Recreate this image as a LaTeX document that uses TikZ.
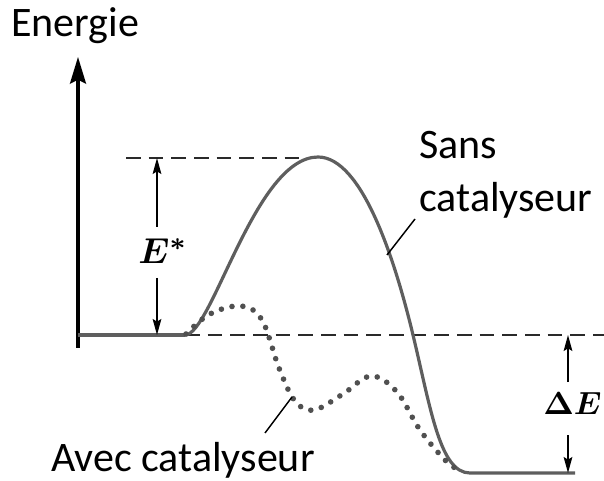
\documentclass[tikz,border=0pt]{standalone}
\usepackage{amsmath,bm}
\usepackage{graphicx}
\usepackage{fontspec}
\setmainfont{Carlito}
\usetikzlibrary{arrows.meta}
\definecolor{curvegray}{HTML}{5E5E5E}
\definecolor{dotgray}{HTML}{505050}
\definecolor{dashgray}{HTML}{2A2A2A}
\tikzset{
  lbl/.style={font=\fontsize{31.5pt}{36pt}\selectfont, inner sep=0pt, anchor=base west},
  axisline/.style={line width=2.3pt, -{Stealth[length=20pt,width=12pt,inset=3pt]}},
  solidcurve/.style={line width=2.4pt, curvegray},
  dotcurve/.style={line width=4.2pt, dotgray, line cap=round, dash pattern=on 0pt off 8.2pt},
  dashline/.style={line width=1.5pt, dashgray, dash pattern=on 11pt off 6pt},
  leader/.style={line width=1.1pt, black},
  dimarrow/.style={line width=1.2pt, -{Stealth[length=12pt,width=6.5pt,inset=2pt]}},
  mathlbl/.style={inner sep=0pt}
}
\begin{document}
\begin{tikzpicture}[x=0.75pt,y=-0.75pt]
\useasboundingbox (0,0) rectangle (604,481);
% axis
\coordinate (axb) at (78,348);
\coordinate (axt) at (78,57);
\draw[axisline] (axb) -- (axt);
\node[lbl] (energie) at (11,37) {Energie};
% levels
\coordinate (r0) at (78,335);
\coordinate (r1) at (185,335);
\coordinate (peak) at (318,157);
\coordinate (p0) at (470,473);
\coordinate (p1) at (575,473);
\coordinate (dt0) at (126,158);
\coordinate (dt1) at (312,158);
\coordinate (db1) at (604,335);
\draw[dashline] (dt0) -- (dt1);
\draw[dashline] (r1) -- (db1);
\draw[line width=3.2pt, curvegray] (r0) -- (r1);
% solid curve
\draw[solidcurve] (r1) .. controls (212,335) and (255,157) .. (peak)
  .. controls (362,157) and (395,260) .. (413,335)
  .. controls (431,410) and (440,473) .. (p0) -- (p1);
% dotted curve
\draw[dotcurve] plot[smooth, tension=0.6] coordinates {(186,334) (210,314) (241,306) (262,320) (279,368) (295,401) (314,410) (343,394) (371,376) (397,392) (420,430) (447,462) (462,471)};
% E* arrow
\node[mathlbl] (estar) at (163,251) {\scalebox{2.7}{$\bm{E}^{\bm{*}}$}};
\coordinate (ea0) at (157,227);
\coordinate (ea1) at (157,158);
\coordinate (eb0) at (157,278);
\coordinate (eb1) at (157,335);
\draw[dimarrow] (ea0) -- (ea1);
\draw[dimarrow] (eb0) -- (eb1);
% Delta E arrow
\node[mathlbl, anchor=west] (de) at (543,404) {\scalebox{2.4}{$\bm{\Delta E}$}};
\coordinate (da0) at (568,382);
\coordinate (da1) at (568,335);
\coordinate (db0) at (568,435);
\coordinate (dbb) at (568,473);
\draw[dimarrow] (da0) -- (da1);
\draw[dimarrow] (db0) -- (dbb);
% labels
\node[lbl] (sans) at (419,159) {Sans};
\node[lbl] (cat1) at (419,212) {catalyseur};
\node[lbl] (avec) at (51,471) {Avec catalyseur};
\coordinate (ls0) at (387,255);
\coordinate (ls1) at (415,219);
\draw[leader] (ls0) -- (ls1);
\coordinate (la0) at (292,397);
\coordinate (la1) at (265,433);
\draw[leader] (la0) -- (la1);
\end{tikzpicture}
\end{document}
